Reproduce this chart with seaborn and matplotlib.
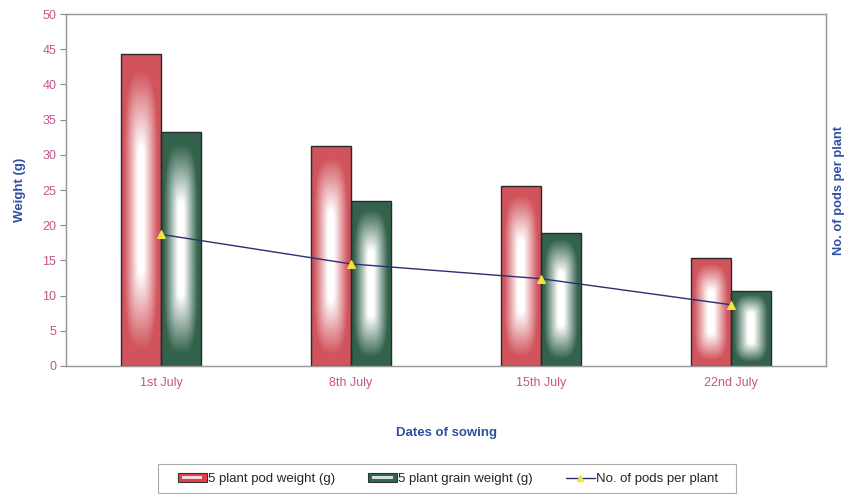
import numpy as np
import pandas as pd
import matplotlib
matplotlib.use("Agg")
import matplotlib.pyplot as plt
import seaborn as sns
from matplotlib.patches import Rectangle
from matplotlib.lines import Line2D
from matplotlib.legend_handler import HandlerBase
from matplotlib.colors import to_rgb

dates = ["1st July", "8th July", "15th July", "22nd July"]
pod_weight = [44.3, 31.2, 25.5, 15.3]
grain_weight = [33.2, 23.4, 18.9, 10.7]
pods_per_plant = [18.7, 14.5, 12.4, 8.7]
series_names = ["5 plant pod weight (g)", "5 plant grain weight (g)"]
line_name = "No. of pods per plant"
yticks = [0, 5, 10, 15, 20, 25, 30, 35, 40, 45, 50]

RED = "#e63f4a"
GREEN = "#2b6b4d"
TICK_COL = "#c4548e"
LABEL_COL = "#2f4fa0"
LINE_COL = "#2b2f70"

sns.set_theme(style="white")
plt.rcParams["font.family"] = ["Liberation Sans", "DejaVu Sans"]

df = pd.DataFrame({
    "date": dates * 2,
    "weight": pod_weight + grain_weight,
    "series": [series_names[0]] * len(dates) + [series_names[1]] * len(dates),
})

fig = plt.figure(figsize=(8.47, 4.94), dpi=100)
ax = fig.add_axes([66/847, 1 - 366/494, (826-66)/847, (366-14)/494])

sns.barplot(data=df, x="date", y="weight", hue="series", order=dates,
            hue_order=series_names, palette=[RED, GREEN], width=0.42,
            dodge=True, ax=ax, legend=False, errorbar=None,
            edgecolor="#2a2a2a", linewidth=1.0)


def gradient(color, nx=80, ny=300, lo=0.15, hi=0.85, p=3.0):
    u = np.linspace(-1, 1, nx)
    v = np.linspace(-1, 1, ny)
    U, V = np.meshgrid(u, v)
    Vs = np.clip((np.abs(V) - 0.3) / 0.7, 0, 1)
    d = (np.abs(U) ** p + Vs ** p) ** (1.0 / p)
    f = np.clip((d - lo) / (hi - lo), 0, 1)
    c = np.array(to_rgb(color))
    img = (1 - f)[..., None] * np.ones(3) + f[..., None] * c
    return img


bars = [p for p in ax.patches if isinstance(p, Rectangle) and p.get_height() > 0]
for p in bars:
    fc = p.get_facecolor()
    x0, y0 = p.get_x(), p.get_y()
    w, h = p.get_width(), p.get_height()
    img = gradient(fc[:3])
    im = ax.imshow(img, extent=[x0, x0 + w, y0, y0 + h], aspect="auto",
                   origin="lower", zorder=1.5, interpolation="bilinear")
    im.set_clip_path(p)
    p.set_facecolor("none")
    p.set_zorder(2)

ax.set_xlim(-0.5, len(dates) - 0.5)
ax.set_ylim(0, 50)
ax.set_yticks(yticks)
ax.set_yticklabels([str(t) for t in yticks], color=TICK_COL, fontsize=9)
ax.tick_params(axis="x", colors=TICK_COL, labelsize=9, length=0, pad=8)
ax.tick_params(axis="y", left=True, length=4, width=0.8, color="#888888", pad=3)
for lab in ax.get_xticklabels():
    lab.set_color(TICK_COL)
ax.set_xlabel("Dates of sowing", fontsize=9.5, fontweight="bold",
              color=LABEL_COL, labelpad=27)
ax.set_ylabel("Weight (g)", fontsize=9.5, fontweight="bold",
              color=LABEL_COL, labelpad=12)
for s in ax.spines.values():
    s.set_color("#999999")
    s.set_linewidth(0.9)

ax2 = ax.twinx()
ax2.set_ylim(0, 50)
sns.lineplot(x=list(range(len(dates))), y=pods_per_plant, ax=ax2,
             color=LINE_COL, linewidth=1.0, marker="^", markersize=6,
             markerfacecolor="#f5e23a", markeredgecolor="#f5e23a", zorder=5)
ax2.set_yticks([])
ax2.set_ylabel(line_name, fontsize=9.3, fontweight="bold",
               color=LABEL_COL, labelpad=5)
for s in ax2.spines.values():
    s.set_color("#999999")
    s.set_linewidth(0.9)
ax2.set_xlim(-0.5, len(dates) - 0.5)


class GradHandler(HandlerBase):
    def __init__(self, color):
        super().__init__()
        self.color = color

    def create_artists(self, legend, orig_handle, xdescent, ydescent,
                       width, height, fontsize, trans):
        outer = Rectangle((-xdescent, -ydescent), width, height,
                          facecolor=self.color, edgecolor="#333333",
                          linewidth=0.8, transform=trans)
        inner = Rectangle((-xdescent + width * 0.15, -ydescent + height * 0.28),
                          width * 0.7, height * 0.44,
                          facecolor="white", edgecolor="none",
                          alpha=0.8, transform=trans)
        return [outer, inner]


h1 = Rectangle((0, 0), 1, 1)
h2 = Rectangle((0, 0), 1, 1)
h3 = Line2D([], [], color=LINE_COL, linewidth=1.0, marker="^",
            markersize=4, markerfacecolor="#f5e23a",
            markeredgecolor="#f5e23a")
leg = fig.legend([h1, h2, h3], series_names + [line_name],
                 handler_map={h1: GradHandler(RED), h2: GradHandler(GREEN)},
                 loc="center", bbox_to_anchor=(448/847, 1 - 479/494),
                 ncol=3, fontsize=9.5, frameon=False,
                 handlelength=2.2, handleheight=0.6,
                 handletextpad=0.1, columnspacing=2.5,
                 borderpad=0.5, borderaxespad=0)

# legend frame box
fig.patches.append(Rectangle((158/847, 1 - 493/494), (736-158)/847, (493-464)/494,
                             transform=fig.transFigure, facecolor="none",
                             edgecolor="#aaaaaa", linewidth=0.8, zorder=0))

fig.savefig("out.png", dpi=100)
